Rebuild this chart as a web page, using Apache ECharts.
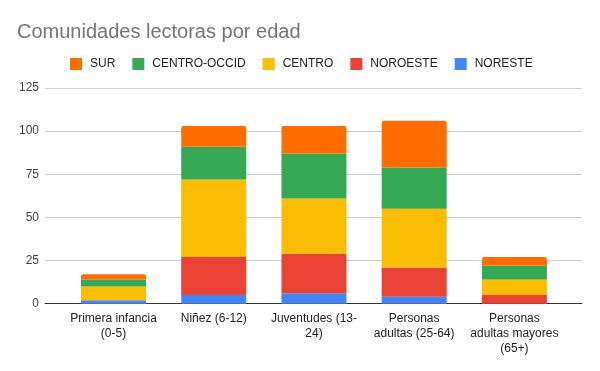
<!DOCTYPE html>
<html>
<head>
<meta charset="utf-8">
<script src="https://cdn.jsdelivr.net/npm/echarts@6/dist/echarts.min.js"></script>
<style>
html,body{margin:0;padding:0;background:#fff;}
#c{width:600px;height:371px;}
</style>
</head>
<body>
<div id="c"></div>
<script>
const categories = ['Primera infancia\n(0-5)', 'Niñez (6-12)', 'Juventudes (13-\n24)', 'Personas\nadultas (25-64)', 'Personas\nadultas mayores\n(65+)'];
const noreste = [2, 5, 6, 4, 0];
const noroeste = [0, 22, 23, 17, 5];
const centro = [8, 45, 32, 34, 9];
const centroOccid = [4, 19, 26, 24, 8];
const sur = [3, 12, 16, 27, 5];
const yTicks = [0, 25, 50, 75, 100, 125];

const chart = echarts.init(document.getElementById('c'), null, {renderer: 'canvas'});
const font = '"Liberation Sans", Arial, sans-serif';
function bar(name, data, color, top) {
  return {
    name: name, type: 'bar', stack: 'total', data: data,
    xAxisIndex: 0, yAxisIndex: 0,
    barWidth: 65,
    itemStyle: {color: color, borderRadius: top ? [2, 2, 0, 0] : 0},
    emphasis: {disabled: true}
  };
}
chart.setOption({
  animation: false,
  backgroundColor: '#fff',
  title: {
    text: 'Comunidades lectoras por edad',
    left: 12, top: 17,
    textStyle: {fontFamily: font, fontSize: 20, fontWeight: 'normal', color: '#757575'}
  },
  legend: {
    data: ['SUR', 'CENTRO-OCCID', 'CENTRO', 'NOROESTE', 'NORESTE'],
    left: 65, top: 53,
    itemWidth: 12, itemHeight: 12, itemGap: 17,
    icon: 'rect',
    textStyle: {fontFamily: font, fontSize: 12, color: '#222', padding: [0, 0, 0, 3]}
  },
  grid: [
    {left: 63.4, right: 35.5, top: 88, bottom: 67.3},
    {left: 45, right: 18.3, top: 88, bottom: 67.3}
  ],
  xAxis: [
    {
      type: 'category', gridIndex: 0, data: categories,
      axisLine: {show: false}, axisTick: {show: false},
      axisLabel: {fontFamily: font, fontSize: 12, color: '#222', margin: 7, lineHeight: 15, interval: 0}
    },
    {
      type: 'category', gridIndex: 1, data: [''],
      axisLine: {show: true, lineStyle: {color: '#333', width: 1}},
      axisTick: {show: false}, axisLabel: {show: false}
    }
  ],
  yAxis: [
    {
      type: 'value', gridIndex: 0, min: yTicks[0], max: yTicks[yTicks.length - 1], interval: 25,
      show: false, splitLine: {show: false}
    },
    {
      type: 'value', gridIndex: 1, min: yTicks[0], max: yTicks[yTicks.length - 1], interval: 25,
      axisLine: {show: false}, axisTick: {show: false},
      axisLabel: {fontFamily: font, fontSize: 12, color: '#444', margin: 6},
      splitLine: {lineStyle: {color: '#ccc', width: 1}}
    }
  ],
  series: [
    bar('NORESTE', noreste, '#4285f4', false),
    bar('NOROESTE', noroeste, '#ea4335', false),
    bar('CENTRO', centro, '#fbbc04', false),
    bar('CENTRO-OCCID', centroOccid, '#34a853', false),
    bar('SUR', sur, '#ff6d01', true)
  ]
});
</script>
</body>
</html>
